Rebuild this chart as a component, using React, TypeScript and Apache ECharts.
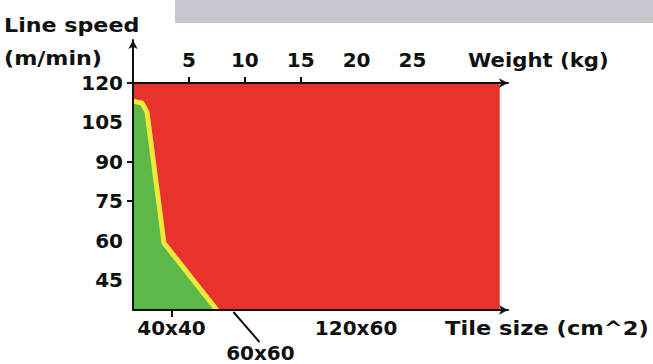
import React, { useEffect, useRef } from "react";
import * as echarts from "echarts";

// Top axis: weight (kg)
const weightTicks = [5, 10, 15, 20, 25];
const weightTickMarks = [5, 10, 15];
// Left axis: line speed (m/min)
const speedTicks = [120, 105, 90, 75, 60, 45];
const speedTickMarks = [120, 90, 75];
// Bottom axis: tile size (cm^2)
const tileSizes = [1600, 3600, 7200];
const tileLabels = ["40x40", "60x60", "120x60"];
// Red zone extent
const redWeight = [0, 32.8];
const redSpeed = [120, 120];
// Green/yellow boundary (weight kg, speed m/min)
const boundaryWeight = [0, 0.8, 1.25, 2.77, 7.5];
const boundarySpeed = [113.1, 112.4, 109.0, 59.1, 33.6];

const FONT = "DejaVu Sans";

function textStyle(size: number) {
  return {
    fontFamily: FONT,
    fontWeight: "bold",
    fontSize: size,
    fill: "#111",
  };
}

export default function App() {
  const ref = useRef<HTMLDivElement>(null);
  useEffect(() => {
    if (!ref.current) return;
    const chart = echarts.init(ref.current, null, { renderer: "svg" });
    const axisLineStyle = { color: "#111", width: 2 };
    const labelStyle = {
      fontFamily: FONT,
      fontWeight: "bold" as const,
      fontSize: 20,
      color: "#111",
    };
    const option: any = {
      animation: false,
      backgroundColor: "#fff",
      grid: { left: 133, top: 40, width: 375, height: 270, containLabel: false },
      xAxis: [
        {
          type: "value",
          position: "top",
          offset: -43,
          min: 0,
          max: 33.54,
          z: 5,
          axisLine: {
            show: true,
            onZero: false,
            lineStyle: axisLineStyle,
            symbol: ["none", "arrow"],
            symbolSize: [7, 9],
          },
          axisTick: {
            show: true,
            customValues: weightTickMarks,
            length: 6,
            lineStyle: { color: "#111", width: 2 },
          },
          axisLabel: { ...labelStyle, customValues: weightTicks, margin: 13 },
          splitLine: { show: false },
        },
        {
          type: "value",
          position: "bottom",
          min: 432,
          max: 11809,
          z: 5,
          axisLine: {
            show: true,
            onZero: false,
            lineStyle: axisLineStyle,
            symbol: ["none", "arrow"],
            symbolSize: [7, 9],
          },
          axisTick: {
            show: true,
            customValues: [tileSizes[0]],
            length: 7,
            lineStyle: { color: "#111", width: 2 },
          },
          axisLabel: {
            ...labelStyle,
            customValues: [tileSizes[0], tileSizes[2]],
            margin: 8,
            formatter: (v: number) => tileLabels[tileSizes.indexOf(v)] ?? "",
          },
          splitLine: { show: false },
        },
      ],
      yAxis: {
        type: "value",
        min: 33.6,
        max: 136.37,
        z: 5,
        axisLine: {
          show: true,
          onZero: false,
          lineStyle: axisLineStyle,
          symbol: ["none", "arrow"],
          symbolSize: [7, 9],
        },
        axisTick: {
          show: true,
          customValues: speedTickMarks,
          length: 6,
          lineStyle: { color: "#111", width: 2 },
        },
        axisLabel: { ...labelStyle, customValues: speedTicks, margin: 10 },
        splitLine: { show: false },
      },
      series: [
        {
          type: "line",
          xAxisIndex: 0,
          data: redWeight.map((w, i) => [w, redSpeed[i]]),
          symbol: "none",
          lineStyle: { width: 0 },
          areaStyle: { color: "#e8322c", opacity: 1, origin: "start" },
          z: 1,
        },
        {
          type: "line",
          xAxisIndex: 0,
          data: boundaryWeight.map((w, i) => [w, boundarySpeed[i]]),
          symbol: "none",
          lineStyle: { width: 5, color: "#f0e83a" },
          areaStyle: { color: "#5cb848", opacity: 1, origin: "start" },
          z: 2,
        },
      ],
    };
    chart.setOption(option);

    const start = chart.convertToPixel({ xAxisIndex: 1 }, tileSizes[1]) as number;
    const baseY = 312;
    chart.setOption({
      graphic: [
        {
          type: "rect",
          shape: { x: 175, y: 0, width: 478, height: 23 },
          style: { fill: "#c5c9cf" },
          z: 0,
        },
        {
          type: "text",
          x: 4,
          y: 25,
          scaleX: 1.11,
          style: { text: "Line speed", ...textStyle(20), verticalAlign: "middle" },
        },
        {
          type: "text",
          x: 4,
          y: 58,
          scaleX: 1.11,
          style: { text: "(m/min)", ...textStyle(20), verticalAlign: "middle" },
        },
        {
          type: "text",
          x: 468,
          y: 60,
          scaleX: 1.06,
          style: { text: "Weight (kg)", ...textStyle(20), verticalAlign: "middle" },
        },
        {
          type: "text",
          x: 445,
          y: 328,
          scaleX: 1.13,
          style: { text: "Tile size (cm^2)", ...textStyle(20), verticalAlign: "middle" },
        },
        {
          type: "line",
          shape: { x1: start - 4, y1: baseY, x2: start + 22, y2: baseY + 30 },
          style: { stroke: "#111", lineWidth: 2 },
        },
        {
          type: "text",
          x: start + 23,
          y: 353,
          style: {
            text: tileLabels[1],
            ...textStyle(20),
            align: "center",
            verticalAlign: "middle",
          },
        },
      ],
    });
    return () => chart.dispose();
  }, []);

  return (
    <div
      ref={ref}
      style={{ position: "fixed", left: 0, top: 0, width: 653, height: 364 }}
    />
  );
}
